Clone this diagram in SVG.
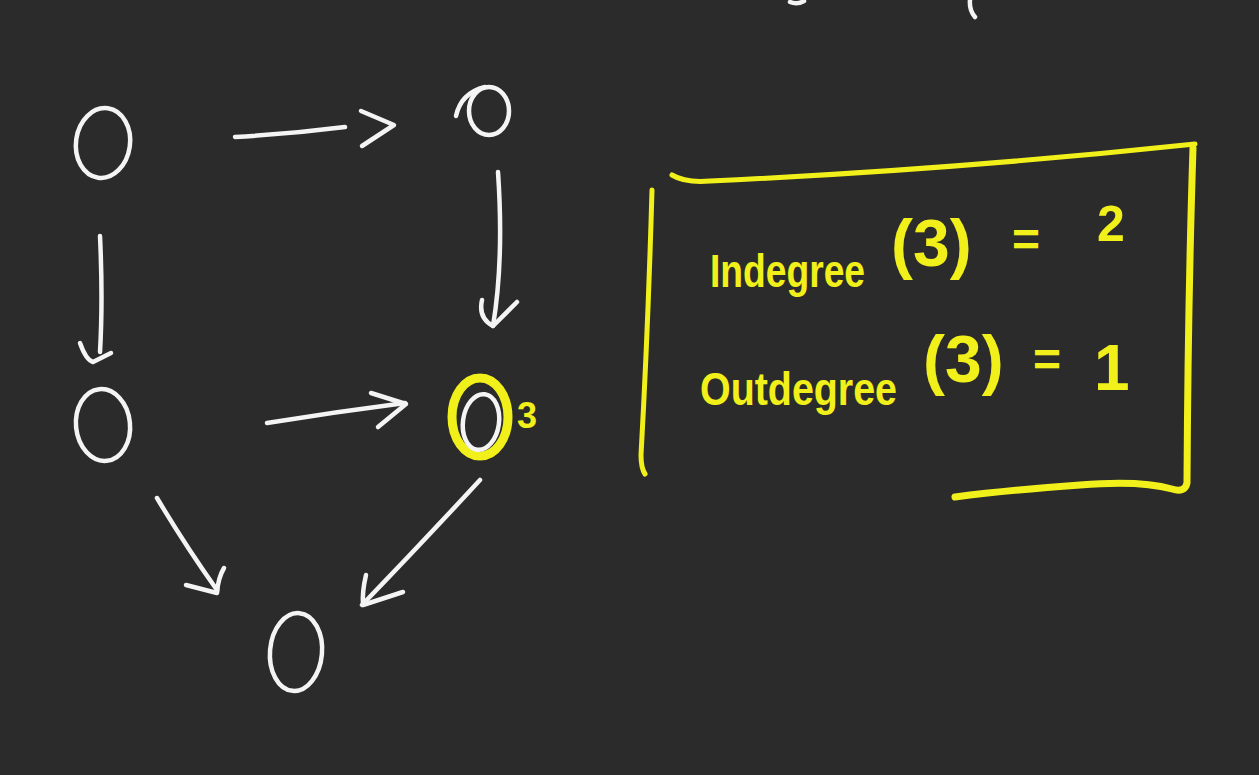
<svg xmlns="http://www.w3.org/2000/svg" width="1259" height="775" viewBox="0 0 1259 775">
<style>
.bg{fill:#2b2b2b}
.w{fill:none;stroke:#f4f4f4;stroke-width:4.5;stroke-linecap:round;stroke-linejoin:round}
.y{fill:none;stroke:#f2f01a;stroke-width:6;stroke-linecap:round;stroke-linejoin:round}
.t{fill:#f2f01a;font-family:"Liberation Sans",Arial,sans-serif;font-weight:bold}
</style>
<rect class="bg" x="0" y="0" width="1259" height="775"/>
<g id="top-fragments">
<path class="w" d="M790,2 Q797,5 804,1"/>
<path class="w" d="M970,0 Q969,10 975,17"/>
</g>
<g id="connectors">
<g id="edge-a-b"><path class="w" d="M235,137 Q290,134 345,127"/><path class="w" d="M361,111 L394,125 L362,146"/></g>
<g id="edge-b-3"><path class="w" d="M498,172 Q504,260 493,326"/><path class="w" d="M482,300 Q478,318 493,326 L517,302"/></g>
<g id="edge-a-c"><path class="w" d="M100,236 Q103,300 100,352"/><path class="w" d="M80,343 Q86,360 93,362 L111,353"/></g>
<g id="edge-c-3"><path class="w" d="M267,423 Q335,412 405,403"/><path class="w" d="M371,393 L406,404 L378,427"/></g>
<g id="edge-c-d"><path class="w" d="M157,498 Q185,545 217,590"/><path class="w" d="M186,585 L217,593 Q218,578 224,568"/></g>
<g id="edge-3-d"><path class="w" d="M480,480 Q420,545 362,605"/><path class="w" d="M366,575 Q362,592 363,605 L403,592"/></g>
</g>
<g id="node-a"><ellipse class="w" cx="103" cy="143" rx="27" ry="35" transform="rotate(8 103 143)"/></g>
<g id="node-b"><ellipse class="w" cx="489" cy="111" rx="20" ry="24"/><path class="w" d="M456,116 Q461,93 485,87"/></g>
<g id="node-c"><ellipse class="w" cx="103" cy="425" rx="27" ry="36" transform="rotate(-6 103 425)"/></g>
<g id="node-3">
<ellipse class="y" cx="480" cy="417" rx="28" ry="39" style="stroke-width:9"/>
<ellipse class="w" cx="481" cy="422" rx="18" ry="28" transform="rotate(8 481 422)"/>
<text class="t" x="517" y="428" font-size="36" font-weight="normal">3</text>
</g>
<g id="node-d"><ellipse class="w" cx="296" cy="652" rx="26" ry="39" transform="rotate(5 296 652)"/></g>
<g id="degree-box">
<path class="y" d="M672,175 Q685,183 710,181 Q950,170 1195,144" style="stroke-width:5"/>
<path class="y" d="M1193,148 Q1188,300 1187,483 Q1185,493 1172,489 Q1140,480 1080,485 Q1010,490 955,497" style="stroke-width:7"/>
<path class="y" d="M652,190 Q648,330 641,455 Q641,468 645,474" style="stroke-width:5"/>
<text class="t"><tspan x="710" y="287" font-size="46" textLength="155" lengthAdjust="spacingAndGlyphs">Indegree</tspan><tspan x="891" y="266" font-size="66">(3)</tspan><tspan x="1012" y="256" font-size="48">=</tspan><tspan x="1097" y="241" font-size="50">2</tspan></text>
<text class="t"><tspan x="700" y="405" font-size="46" textLength="197" lengthAdjust="spacingAndGlyphs">Outdegree</tspan><tspan x="923" y="382" font-size="66">(3)</tspan><tspan x="1033" y="376" font-size="48">=</tspan><tspan x="1094" y="390" font-size="64">1</tspan></text>
</g>
</svg>
